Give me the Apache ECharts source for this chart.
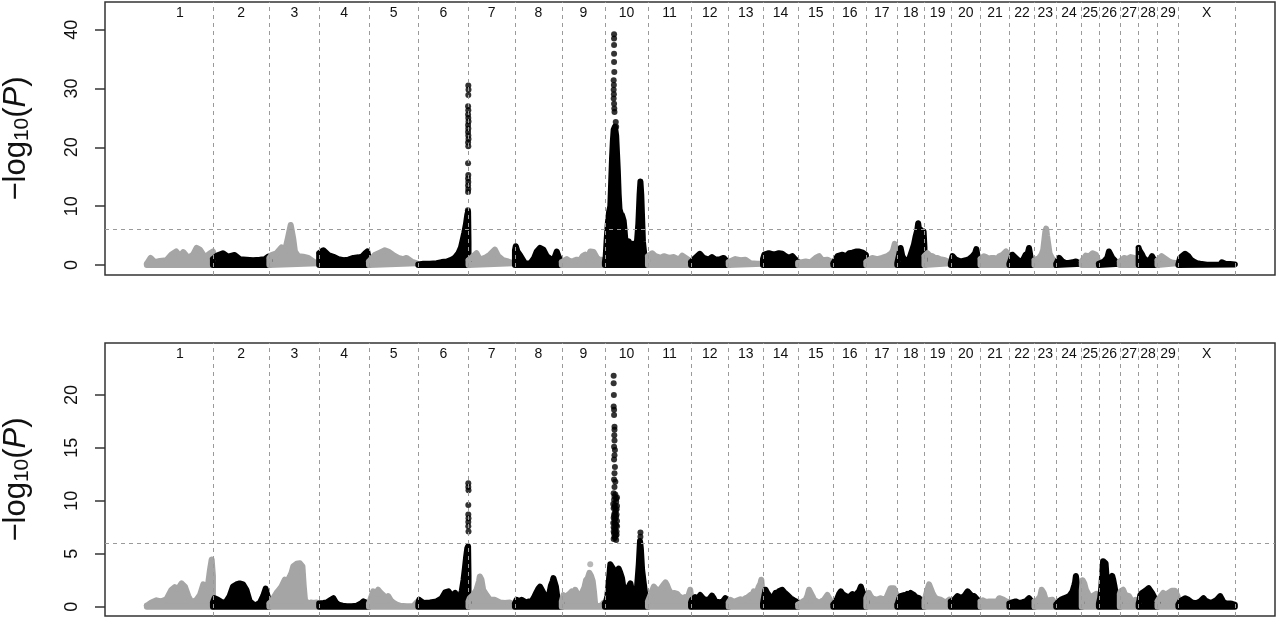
<!DOCTYPE html>
<html><head><meta charset="utf-8">
<script src="https://cdn.jsdelivr.net/npm/echarts@6/dist/echarts.min.js"></script>
<style>html,body{margin:0;padding:0;background:#fff}#c{width:1280px;height:619px}</style>
</head><body><div id="c"></div>
<script>
// ---------------- data ----------------
const chromNames = ['1','2','3','4','5','6','7','8','9','10','11','12','13','14','15','16','17','18','19','20','21','22','23','24','25','26','27','28','29','X'];
const chromLengths = [158,135,119,119,118,120,111,112,103,103,103,90,82,84,84,79,74,65,63,71,69,60,52,61,41,50,45,45,50,135]; // Mb
const threshold = 6;
const topTicks = [0,10,20,30,40];
const botTicks = [0,5,10,15,20];

// Upper panel: envelope of -log10(P) along each chromosome [pos Mb, value]
const topC1 = [[0,0.2],[9,1.2],[19,0.5],[31,0.7],[47,0.8],[59,1.8],[70,2.3],[79,1.5],[87,2.2],[99,1.2],[111,1.8],[119,2.9],[127,2.6],[139,1.3],[151,2.0],[158,2.3]];
const topC2 = [[0,1.0],[10,1.6],[24,2.0],[36,1.4],[52,1.7],[64,1.0],[80,0.9],[96,0.8],[112,0.9],[124,1.0],[132,1.4],[135,0.8]];
const topC3 = [[0,1.2],[5,1.7],[17,2.0],[29,3.0],[37,2.3],[45,4.8],[51,6.8],[57,4.5],[61,2.3],[69,1.5],[81,1.4],[93,1.2],[105,0.6],[117,0.3]];
const topC4 = [[0,2.0],[2,2.3],[10,2.5],[22,1.7],[34,1.4],[46,1.0],[58,0.8],[70,0.9],[82,1.2],[94,1.3],[102,1.4],[110,2.0],[115,2.3],[119,1.0]];
const topC5 = [[0,0.6],[2,0.9],[14,1.7],[26,2.1],[38,2.5],[46,2.3],[58,1.7],[70,1.2],[82,1.0],[90,1.2],[102,0.6],[114,0.3],[118,0.2]];
const topC6 = [[0,0.1],[12,0.2],[28,0.2],[44,0.3],[56,0.5],[68,0.6],[80,0.9],[88,1.3],[96,2.0],[102,3.0],[106,4.2],[110,5.5],[114,7.0],[117,8.5],[119,9.1],[120,4.0]];
const topC7 = [[0,0.8],[3,0.9],[11,1.5],[19,2.0],[27,0.9],[39,1.2],[51,1.75],[63,2.6],[71,1.5],[83,0.8],[95,0.6],[107,0.3],[111,0.3]];
const topC8 = [[0,2.5],[2,3.2],[6,2.3],[12,1.7],[24,0.3],[36,0.2],[46,1.2],[52,2.3],[60,2.9],[68,2.6],[76,1.5],[88,0.9],[95,1.3],[100,2.3],[104,1.5],[108,0.9],[112,0.5]];
const topC9 = [[0,0.5],[4,0.7],[12,1.0],[20,0.6],[28,0.7],[36,0.9],[44,0.8],[50,1.5],[56,1.75],[62,1.0],[68,2.3],[76,2.2],[84,1.2],[90,0.9],[96,0.9],[102,0.6]];
const topC10 = [[0,0.5],[2,1.5],[4,4.0],[7,7.0],[10,9.0],[13,10.0],[15,14],[17,18],[19,21],[21,23],[24,23.5],[27,22],[29,19],[31,16],[33,12],[35,9.5],[37,9.0],[39,8.0],[41,8.5],[43,8.3],[45,7.5],[47,6.0],[49,4.2],[53,3.5],[57,4.0],[61,3.0],[65,3.6],[69,2.8],[73,3.4],[77,4.2],[80,7.0],[83,12],[85,14.2],[87,12],[89,8],[91,4],[94,2],[98,1.2],[102,0.8]];
const topC11 = [[0,1.5],[2,1.75],[10,2.0],[18,1.5],[30,1.2],[38,1.5],[50,1.2],[62,1.35],[74,0.9],[82,1.6],[90,1.2],[98,0.8],[102,0.6]];
const topC12 = [[0,0.5],[2,0.6],[10,1.2],[21,1.9],[30,1.2],[42,0.9],[50,1.35],[58,0.9],[70,1.0],[78,1.2],[86,0.6],[90,0.4]];
const topC13 = [[0,0.5],[4,0.6],[16,1.0],[28,0.8],[40,0.9],[52,0.3],[68,0.2],[82,0.2]];
const topC14 = [[0,1.0],[3,1.75],[14,2.0],[26,1.75],[38,2.0],[46,1.9],[54,1.5],[62,1.2],[70,1.5],[78,0.9],[84,0.5]];
const topC15 = [[0,0.4],[6,0.45],[18,0.6],[30,0.45],[42,1.2],[50,1.5],[58,0.8],[70,0.9],[82,0.45],[84,0.3]];
const topC16 = [[0,0.3],[2,0.5],[10,1.5],[22,1.75],[30,1.5],[38,2.0],[46,2.1],[54,2.3],[62,2.3],[70,2.1],[78,1.75],[79,1.0]];
const topC17 = [[0,0.5],[2,0.6],[14,1.2],[26,1.0],[38,1.2],[50,1.5],[60,2.0],[64,2.5],[68,3.6],[72,1.5],[74,1.0]];
const topC18 = [[0,0.3],[4,0.4],[8,2.9],[12,1.5],[20,0.6],[28,0.9],[36,2.6],[40,3.5],[44,4.9],[48,6.0],[50,7.1],[53,5.5],[56,6.0],[60,5.0],[63,5.7],[65,3.0]];
const topC19 = [[0,1.5],[7,2.0],[13,1.6],[19,1.5],[25,1.2],[31,1.2],[37,1.0],[43,0.9],[49,0.8],[55,0.6],[63,0.3]];
const topC20 = [[0,0.3],[4,1.5],[8,1.2],[12,0.9],[24,0.6],[36,0.8],[44,1.0],[52,1.5],[58,2.0],[61,2.7],[64,1.5],[68,0.5]];
const topC21 = [[0,1.0],[2,1.2],[8,1.5],[13,1.35],[19,1.0],[25,1.2],[33,1.2],[39,1.0],[45,1.5],[53,1.75],[61,2.3],[67,1.75],[69,1.0]];
const topC22 = [[0,0.2],[4,1.0],[7,1.75],[11,1.5],[15,1.2],[21,0.8],[27,0.6],[33,0.9],[39,1.75],[44,2.0],[47,2.9],[51,1.2],[56,0.6],[60,0.4]];
const topC23 = [[0,0.8],[3,0.9],[11,1.2],[17,1.8],[21,2.6],[24,4.5],[26,5.7],[28,6.2],[30,5.0],[33,3.5],[36,2.0],[39,1.5],[45,0.8],[50,0.6],[52,0.5]];
const topC24 = [[0,0.2],[4,0.8],[7,1.2],[11,0.9],[15,0.6],[21,0.4],[27,0.3],[33,0.4],[39,0.45],[47,0.6],[55,0.3],[61,0.2]];
const topC25 = [[0,0.6],[2,0.9],[10,1.6],[18,1.5],[26,2.0],[34,1.75],[38,0.9],[41,0.6]];
const topC26 = [[0,0.2],[6,0.4],[12,0.6],[16,0.8],[20,1.2],[24,2.3],[28,1.75],[32,1.2],[36,0.9],[44,0.3],[50,0.2]];
const topC27 = [[0,0.6],[2,0.9],[10,1.2],[18,1.0],[26,1.35],[34,1.2],[42,0.6],[45,0.4]];
const topC28 = [[0,2.9],[2,2.5],[4,2.6],[8,1.8],[12,1.2],[18,0.8],[24,0.6],[28,1.0],[32,1.5],[36,1.0],[40,0.9],[45,0.5]];
const topC29 = [[0,0.8],[2,1.0],[10,1.5],[16,1.2],[22,0.9],[28,0.6],[34,0.45],[46,0.3],[50,0.2]];
const topCX = [[0,0.1],[4,1.2],[10,1.6],[16,1.9],[24,1.5],[30,0.9],[36,0.6],[44,0.3],[52,0.2],[68,0.05],[84,0.05],[100,0.05],[104,0.45],[108,0.3],[112,0.2],[124,0.15],[135,0.1]];

// Lower panel envelopes
const botC1 = [[0,0.1],[3,0.2],[11,0.4],[23,0.6],[35,0.5],[47,0.7],[59,1.6],[67,1.85],[75,1.7],[83,2.2],[91,1.9],[99,1.0],[107,0.4],[119,0.65],[127,1.1],[135,2.1],[143,1.1],[151,3.5],[155,4.45],[158,2.9]];
const botC2 = [[0,0.4],[4,0.8],[12,0.65],[18,0.5],[24,0.35],[32,0.5],[40,1.0],[48,1.9],[56,2.1],[64,2.2],[72,2.1],[80,1.6],[88,0.5],[100,0.1],[112,0.35],[120,1.0],[126,1.7],[130,1.1],[135,0.4]];
const botC3 = [[0,0.3],[5,0.5],[11,0.9],[17,1.3],[23,1.6],[29,1.9],[37,2.55],[43,2.4],[49,2.85],[53,3.2],[57,3.8],[65,4.05],[73,4.1],[79,3.8],[82,2.0],[85,0.65],[93,0.2],[99,0.4],[105,0.35],[113,0.4],[119,0.3]];
const botC4 = [[0,0.3],[2,0.4],[10,0.35],[18,0.4],[26,0.6],[34,0.8],[40,0.4],[46,0.2],[56,0.1],[66,0.05],[78,0.05],[90,0.1],[100,0.3],[106,0.5],[114,0.35],[119,0.2]];
const botC5 = [[0,0.3],[2,0.5],[10,1.45],[16,1.2],[22,1.6],[28,1.3],[34,1.1],[40,0.7],[46,1.0],[52,0.6],[58,0.4],[66,0.2],[74,0.1],[90,0.05],[106,0.05],[114,0.4],[118,0.3]];
const botC6 = [[0,0.3],[2,0.65],[12,0.35],[28,0.4],[44,0.5],[56,0.8],[64,1.35],[72,1.45],[80,1.0],[88,1.3],[94,0.8],[100,1.0],[104,1.5],[108,2.5],[111,3.5],[114,4.6],[117,5.5],[119,5.7],[120,3.0]];
const botC7 = [[0,0.5],[3,0.8],[11,1.1],[19,1.6],[25,2.4],[27,2.85],[31,2.55],[35,1.6],[43,1.1],[51,0.65],[63,0.65],[75,0.4],[87,0.35],[99,0.4],[107,0.2],[111,0.2]];
const botC8 = [[0,0.3],[4,0.65],[10,0.5],[16,0.65],[22,0.5],[28,0.4],[34,0.5],[40,0.5],[46,0.9],[52,1.4],[56,1.7],[60,1.9],[64,1.6],[68,1.6],[72,1.0],[76,0.65],[82,1.2],[86,2.0],[90,2.4],[92,2.7],[95,2.3],[98,1.9],[101,1.0],[104,0.5],[112,0.3]];
const botC9 = [[0,0.5],[4,1.1],[8,0.9],[12,1.0],[18,1.2],[24,1.45],[28,1.2],[32,1.6],[36,1.3],[40,1.0],[44,1.1],[48,1.3],[54,1.8],[58,2.5],[62,2.7],[66,3.2],[70,2.9],[74,2.4],[77,1.4],[80,0.1],[88,0.05],[96,0.15],[100,0.35],[103,0.2]];
const botC10 = [[0,0.3],[3,0.5],[6,1.0],[9,2.2],[13,4.0],[17,4.1],[21,3.5],[25,1.6],[29,3.2],[33,3.6],[37,3.2],[41,2.7],[45,1.6],[49,1.45],[53,1.6],[57,1.9],[61,2.2],[65,1.45],[69,1.3],[73,1.45],[77,1.9],[81,4.0],[84,6.2],[86,5.5],[89,3.5],[93,2.2],[97,1.0],[101,0.3],[103,0.2]];
const botC11 = [[0,0.5],[4,0.65],[9,1.4],[14,1.9],[18,1.7],[22,1.6],[28,1.5],[34,1.9],[38,2.1],[42,2.3],[46,2.0],[50,1.6],[58,1.1],[62,1.3],[66,1.45],[70,1.2],[74,1.0],[82,0.8],[88,0.9],[94,0.65],[98,1.2],[101,1.6],[103,1.0]];
const botC12 = [[0,0.4],[2,0.65],[6,0.8],[10,0.9],[16,0.8],[22,1.1],[28,0.8],[34,0.65],[42,0.65],[46,0.8],[50,1.05],[54,0.8],[58,0.5],[64,0.45],[70,0.4],[76,0.5],[82,0.8],[86,0.65],[90,0.4]];
const botC13 = [[0,0.4],[4,0.65],[10,0.5],[16,0.5],[22,0.6],[28,0.7],[34,0.6],[40,0.8],[46,0.9],[52,1.1],[56,0.9],[60,1.45],[66,1.2],[72,1.9],[76,2.2],[78,2.55],[80,1.6],[82,0.8]];
const botC14 = [[0,0.3],[3,1.0],[6,1.6],[10,1.3],[14,1.1],[18,0.8],[22,0.65],[26,1.0],[30,1.3],[34,1.1],[38,1.45],[42,1.3],[46,1.6],[50,1.4],[54,1.3],[58,1.1],[62,1.0],[66,0.8],[70,0.65],[74,0.6],[78,0.7],[84,0.4]];
const botC15 = [[0,0.2],[6,0.35],[12,0.5],[18,0.65],[22,1.0],[26,1.6],[30,1.45],[34,1.0],[38,0.65],[44,0.5],[50,0.35],[56,0.5],[62,0.65],[66,0.8],[70,1.1],[74,0.8],[78,0.5],[84,0.3]];
const botC16 = [[0,0.2],[2,0.3],[6,0.5],[10,0.8],[14,1.2],[18,1.45],[22,1.2],[26,1.3],[30,1.0],[34,1.1],[38,0.9],[42,1.0],[46,1.2],[50,1.1],[54,1.0],[58,1.3],[62,1.5],[66,1.9],[70,1.4],[74,1.1],[79,0.5]];
const botC17 = [[0,0.8],[3,1.1],[6,1.3],[10,1.0],[14,0.8],[20,0.7],[26,0.65],[30,0.7],[34,0.8],[40,0.7],[46,0.65],[52,1.2],[58,1.75],[62,1.6],[66,1.75],[70,1.3],[74,1.0]];
const botC18 = [[0,0.2],[2,0.4],[5,0.8],[8,1.0],[12,0.9],[16,1.1],[20,0.9],[24,1.2],[28,1.0],[32,1.3],[36,1.2],[40,1.1],[44,0.9],[48,1.0],[52,0.8],[56,0.65],[60,0.5],[65,0.3]];
const botC19 = [[0,0.6],[3,1.0],[7,1.6],[11,2.1],[15,1.7],[19,1.3],[23,1.0],[27,0.8],[33,0.7],[39,0.65],[45,0.5],[51,0.4],[55,0.5],[59,0.65],[63,0.4]];
const botC20 = [[0,0.5],[2,0.65],[8,0.65],[12,0.8],[16,1.0],[20,0.9],[24,0.8],[28,0.9],[32,1.0],[36,1.2],[40,1.45],[44,1.3],[48,1.1],[52,1.0],[56,1.0],[60,0.8],[64,0.65],[70,0.4]];
const botC21 = [[0,0.5],[1,0.65],[5,0.6],[9,0.5],[13,0.45],[17,0.4],[21,0.5],[25,0.65],[31,0.5],[37,0.4],[41,0.6],[45,0.8],[49,0.75],[53,0.7],[57,0.6],[61,0.5],[65,0.45],[69,0.4]];
const botC22 = [[0,0.3],[3,0.35],[7,0.4],[11,0.45],[15,0.5],[21,0.4],[27,0.35],[33,0.45],[39,0.5],[43,0.6],[47,0.8],[51,0.6],[55,0.4],[60,0.3]];
const botC23 = [[0,0.5],[3,0.65],[7,0.6],[11,0.65],[14,1.0],[17,1.6],[20,1.5],[22,1.3],[25,0.9],[27,0.65],[31,0.6],[35,0.6],[39,0.65],[43,0.65],[47,0.4],[52,0.3]];
const botC24 = [[0,0.2],[2,0.3],[6,0.5],[11,0.65],[15,0.7],[19,0.8],[25,0.9],[31,1.0],[35,1.2],[39,1.45],[43,2.0],[45,2.3],[47,2.9],[49,2.4],[51,1.9],[54,1.2],[58,0.65],[61,0.3]];
const botC25 = [[0,1.5],[2,2.5],[6,2.2],[10,1.6],[14,1.3],[18,1.0],[22,0.8],[26,1.0],[30,1.1],[34,1.2],[38,1.3],[41,0.8]];
const botC26 = [[0,0.3],[3,0.8],[6,1.9],[8,3.2],[10,4.3],[13,4.3],[16,4.1],[18,3.0],[20,2.2],[22,1.8],[24,1.6],[27,2.2],[30,2.7],[32,2.9],[34,2.6],[37,2.0],[40,1.3],[44,0.5],[50,0.3]];
const botC27 = [[0,1.2],[2,1.45],[5,1.6],[8,1.6],[11,1.3],[14,1.1],[18,1.0],[22,1.0],[26,0.7],[30,0.5],[34,0.6],[38,0.65],[42,0.5],[45,0.4]];
const botC28 = [[0,0.3],[2,0.6],[4,1.1],[8,1.3],[12,1.45],[16,1.5],[20,1.6],[24,1.75],[28,1.6],[32,1.3],[36,1.0],[40,0.65],[45,0.4]];
const botC29 = [[0,0.5],[3,0.7],[6,0.8],[10,1.1],[14,1.3],[18,1.2],[22,1.1],[26,1.3],[30,1.45],[34,1.5],[38,1.6],[42,1.5],[45,1.45],[48,1.0],[50,0.65]];
const botCX = [[0,0.2],[4,0.5],[10,0.65],[16,0.8],[20,0.75],[24,0.65],[28,0.5],[32,0.4],[38,0.35],[44,0.35],[52,0.5],[56,0.65],[60,0.8],[64,0.6],[68,0.5],[74,0.4],[80,0.4],[86,0.5],[92,0.65],[96,0.8],[100,1.0],[104,0.7],[108,0.4],[116,0.3],[124,0.3],[130,0.25],[135,0.2]];

// isolated SNP points above the dense profiles [pos Mb, value]
const topDots6 = [[119.5,30.5],[120,29.8],[119.5,28.9],[119,27.0],[119.5,26.3],[119,25.6],[119.5,25.0],[120,24.4],[119,23.8],[119.5,23.2],[119,22.6],[119.5,22.0],[120,21.4],[119,20.8],[119.5,20.2],[119,17.3],[119.5,15.3],[119,14.7],[119.5,14.1],[119,13.5],[119.5,12.9],[119,12.4],[118.5,9.3]];
const topDots10 = [[22,39.2],[22,38.5],[22,37.4],[22,35.9],[22,34.5],[22.5,32.8],[21,31.4],[21.5,30.6],[21,29.8],[21.5,29.0],[21,28.3],[22,27.4],[22.5,26.6],[23,26.0],[26,24.3],[27,23.5]];
const botDots6 = [[119.5,11.65],[119.5,11.3],[120,11.0],[119.5,9.6],[119.5,8.7],[120,8.35],[119.5,8.0],[119.5,7.6],[120,7.1]];
const botDots9 = [[68,4.0]];
const botDots10 = [[21,21.8],[21,21.1],[21.5,20.0],[21,18.9],[22,18.6],[22,18.1],[23,17.0],[23,16.7],[22.5,16.2],[23,15.7],[22,15.1],[24,14.8],[23,14.3],[22,13.9],[24,13.2],[23,12.6],[22,12.0],[25,11.8],[23,11.3],
  [21,10.7],[25,10.6],[29,10.3],[22,10.1],[27,9.9],[24,9.6],[29,9.5],[21,9.3],[26,9.1],[23,8.8],[28,8.7],[21,8.4],[25,8.3],[29,8.1],[23,7.9],[27,7.7],[21,7.5],[25,7.3],[28,7.1],[22,6.9],[26,6.7],[24,6.5],[27,6.3],
  [23,10.4],[27,10.2],[20,9.7],[23,9.4],[28,9.2],[25,8.9],[22,8.6],[27,8.5],[23,8.2],[20,7.9],[25,7.8],[29,7.6],[23,7.4],[21,7.1],[25,7.0],[28,6.8],[23,6.6],[21,6.4],
  [85,7.0],[85,6.6]];

// ---------------- build ----------------
const topProfiles = [topC1,topC2,topC3,topC4,topC5,topC6,topC7,topC8,topC9,topC10,topC11,topC12,topC13,topC14,topC15,topC16,topC17,topC18,topC19,topC20,topC21,topC22,topC23,topC24,topC25,topC26,topC27,topC28,topC29,topCX];
const botProfiles = [botC1,botC2,botC3,botC4,botC5,botC6,botC7,botC8,botC9,botC10,botC11,botC12,botC13,botC14,botC15,botC16,botC17,botC18,botC19,botC20,botC21,botC22,botC23,botC24,botC25,botC26,botC27,botC28,botC29,botCX];
const dotSets = [
  {panel:0, chrom:'6', pts:topDots6}, {panel:0, chrom:'10', pts:topDots10},
  {panel:1, chrom:'6', pts:botDots6}, {panel:1, chrom:'9', pts:botDots9}, {panel:1, chrom:'10', pts:botDots10}
];

const GRAY = '#a5a5a5', BLACK = '#000000';
const colorOf = i => (i % 2 === 0 ? GRAY : BLACK);
const offsets = []; let acc = 0;
chromLengths.forEach(l => { offsets.push(acc); acc += l; });
const ends = offsets.map((o, i) => o + chromLengths[i]);
const mids = offsets.map((o, i) => o + chromLengths[i] / 2);
const X_MIN = -100, X_MAX = 2697;
const Y_RANGES = [[-1.7, 44.7], [-0.88, 24.9]];
const FONT = 'Liberation Sans, Arial, Helvetica, sans-serif';

function nameAt(v) {
  for (let i = 0; i < mids.length; i++) if (Math.abs(mids[i] - v) < 1e-6) return chromNames[i];
  return '';
}

const series = [];
[topProfiles, botProfiles].forEach((profiles, panel) => {
  const ticks = panel === 0 ? topTicks : botTicks;
  series.push({
    type: 'line', xAxisIndex: panel, yAxisIndex: panel, data: [], silent: true, z: 1,
    markLine: {
      silent: true, animation: false, symbol: ['none', 'none'], label: { show: false },
      lineStyle: { color: '#9a9a9a', type: [4, 4], width: 1 },
      emphasis: { disabled: true },
      data: ends.map(e => ({ xAxis: e })).concat([{ yAxis: threshold }])
    }
  });
  // y tick marks: horizontal lines across a narrow strip grid just left of the plot box
  series.push({
    type: 'line', xAxisIndex: panel + 2, yAxisIndex: panel + 2, data: [], silent: true, z: 5,
    markLine: {
      silent: true, animation: false, symbol: ['none', 'none'], label: { show: false },
      lineStyle: { color: '#333', type: 'solid', width: 1.5 },
      emphasis: { disabled: true },
      data: ticks.map(v => ({ yAxis: v }))
    }
  });
  profiles.forEach((prof, i) => {
    const o = offsets[i];
    const pts = prof.map(p => [o + p[0], p[1]]);
    const first = pts[0], last = pts[pts.length - 1];
    pts.push([last[0], 0], [first[0], 0], [first[0], first[1]]);
    const c = colorOf(i);
    series.push({
      type: 'line', xAxisIndex: panel, yAxisIndex: panel, data: pts,
      showSymbol: false, symbol: 'none', smooth: false, silent: true, z: 2, animation: false,
      lineStyle: { color: c, width: 6, cap: 'round', join: 'round' },
      areaStyle: { color: c, opacity: 1 }
    });
  });
});
dotSets.forEach(d => {
  const i = chromNames.indexOf(d.chrom);
  series.push({
    type: 'scatter', xAxisIndex: d.panel, yAxisIndex: d.panel, silent: true, z: 3, animation: false,
    symbol: 'circle', symbolSize: 6, itemStyle: { color: colorOf(i) },
    data: d.pts.map(p => [offsets[i] + p[0], p[1]])
  });
});

const yTitle = '{m|−log}{s|10}{m|(}{i|P}{m|)}';
const yTitleStyle = {
  fontFamily: FONT, color: '#111',
  rich: {
    m: { fontSize: 31, fontFamily: FONT, color: '#111', lineHeight: 34 },
    s: { fontSize: 21, fontFamily: FONT, color: '#111', lineHeight: 14, verticalAlign: 'bottom' },
    i: { fontSize: 31, fontFamily: FONT, color: '#111', lineHeight: 34, fontStyle: 'italic' }
  }
};

function yAxisFor(panel, ticks) {
  return {
    gridIndex: panel, type: 'value', min: Y_RANGES[panel][0], max: Y_RANGES[panel][1], position: 'left',
    axisLine: { show: false, onZero: false },
    splitLine: { show: false },
    axisTick: { show: false },
    axisLabel: { rotate: 90, margin: 24, fontSize: 18, color: '#111', fontFamily: FONT, customValues: ticks },
    name: yTitle, nameLocation: 'middle', nameRotate: 90, nameGap: 72, nameTextStyle: yTitleStyle
  };
}
function stripYAxis(panel) {
  return { gridIndex: panel + 2, type: 'value', min: Y_RANGES[panel][0], max: Y_RANGES[panel][1], show: false };
}
function xAxisFor(panel) {
  return {
    gridIndex: panel, type: 'value', min: X_MIN, max: X_MAX, position: 'top',
    axisLine: { show: false, onZero: false }, axisTick: { show: false }, splitLine: { show: false },
    axisLabel: { inside: true, margin: 4, fontSize: 14, color: '#111', fontFamily: FONT,
      customValues: mids, formatter: v => nameAt(v) }
  };
}
function stripXAxis(panel) {
  return { gridIndex: panel + 2, type: 'value', min: 0, max: 1, show: false };
}

const chart = echarts.init(document.getElementById('c'), null, { renderer: 'canvas' });
chart.setOption({
  animation: false,
  backgroundColor: '#ffffff',
  grid: [
    { left: 105, right: 5, top: 2, height: 273, show: true, borderColor: '#333', borderWidth: 1.5, backgroundColor: 'transparent', containLabel: false, outerBoundsMode: 'none' },
    { left: 105, right: 5, top: 343, height: 273, show: true, borderColor: '#333', borderWidth: 1.5, backgroundColor: 'transparent', containLabel: false, outerBoundsMode: 'none' },
    { left: 95, width: 10, top: 2, height: 273, show: false, containLabel: false, outerBoundsMode: 'none' },
    { left: 95, width: 10, top: 343, height: 273, show: false, containLabel: false, outerBoundsMode: 'none' }
  ],
  xAxis: [xAxisFor(0), xAxisFor(1), stripXAxis(0), stripXAxis(1)],
  yAxis: [yAxisFor(0, topTicks), yAxisFor(1, botTicks), stripYAxis(0), stripYAxis(1)],
  series: series
});
</script>
</body></html>
